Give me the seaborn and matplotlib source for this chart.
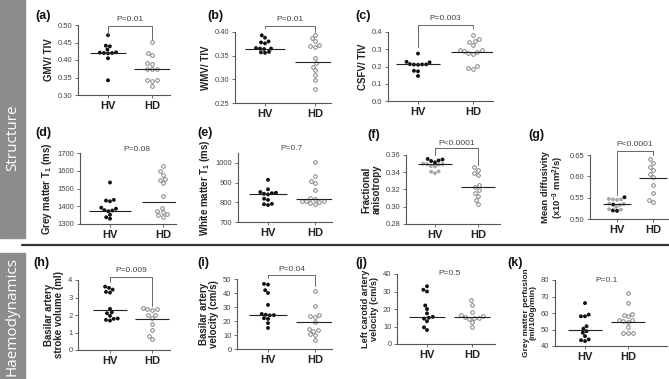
import numpy as np
import pandas as pd
import matplotlib
matplotlib.use("Agg")
import matplotlib.pyplot as plt
import matplotlib.transforms as mtransforms
import seaborn as sns

sns.set_style("ticks")
plt.rcParams["font.family"] = ["Liberation Sans", "DejaVu Sans"]
plt.rcParams["mathtext.fontset"] = "custom"
plt.rcParams["mathtext.rm"] = "Liberation Sans"
plt.rcParams["mathtext.bf"] = "Liberation Sans:bold"
plt.rcParams["mathtext.it"] = "Liberation Sans:italic"

groups = ["HV", "HD"]

# ---------------- data ----------------
gmv_hv = [0.471, 0.441, 0.439, 0.430, 0.422, 0.421, 0.420, 0.420, 0.419, 0.405, 0.342]
gmv_hd = [0.452, 0.421, 0.414, 0.391, 0.389, 0.375, 0.374, 0.373, 0.343, 0.342, 0.341, 0.327]
gmv_med = [0.420, 0.373]

wmv_hv = [0.393, 0.388, 0.380, 0.378, 0.376, 0.366, 0.365, 0.365, 0.364, 0.358, 0.357, 0.356]
wmv_hd = [0.394, 0.387, 0.380, 0.372, 0.370, 0.368, 0.345, 0.334, 0.327, 0.319, 0.309, 0.299, 0.280]
wmv_med = [0.365, 0.337]

csf_hv = [0.275, 0.227, 0.224, 0.214, 0.212, 0.212, 0.211, 0.210, 0.175, 0.172, 0.145]
csf_hd = [0.381, 0.358, 0.345, 0.340, 0.323, 0.295, 0.293, 0.290, 0.282, 0.276, 0.272, 0.202, 0.190, 0.185]
csf_med = [0.212, 0.283]

gmt1_hv = [1534, 1436, 1432, 1428, 1392, 1386, 1378, 1376, 1372, 1352, 1338, 1330]
gmt1_hd = [1625, 1598, 1578, 1552, 1550, 1530, 1458, 1392, 1372, 1368, 1354, 1348, 1342]
gmt1_med = [1376, 1425]

wmt1_hv = [914, 866, 852, 848, 846, 843, 840, 818, 812, 792, 790, 786]
wmt1_hd = [1003, 935, 908, 900, 860, 820, 815, 808, 806, 804, 802, 795, 792]
wmt1_med = [840, 817]

fa_hv_black = [0.3554, 0.3548, 0.3536, 0.3530, 0.3515]
fa_hv_grey = [0.3500, 0.3495, 0.3492, 0.3488, 0.3472, 0.3468, 0.3410, 0.3405, 0.3390]
fa_hd = [0.3457, 0.3426, 0.3395, 0.3372, 0.3253, 0.3225, 0.3195, 0.3165, 0.3125, 0.3078, 0.3032]
fa_med = [0.3496, 0.3225]

md_hv_black = [0.551, 0.534, 0.520, 0.519]
md_hv_grey = [0.547, 0.546, 0.546, 0.545, 0.536, 0.535, 0.533, 0.528, 0.523, 0.522]
md_hd = [0.640, 0.632, 0.623, 0.615, 0.606, 0.598, 0.580, 0.561, 0.545, 0.541]
md_med = [0.535, 0.595]

sv_hv = [3.62, 3.55, 3.45, 3.32, 3.28, 2.35, 2.15, 2.10, 1.95, 1.80, 1.78, 1.72, 1.68]
sv_hd = [2.40, 2.36, 2.33, 2.30, 2.00, 1.98, 1.82, 1.50, 1.12, 0.80, 0.62]
sv_med = [2.29, 1.80]

bv_hv = [46.5, 46.0, 42.0, 40.0, 31.5, 25.0, 24.5, 24.2, 24.0, 22.0, 21.5, 18.5, 15.0]
bv_hd = [41.5, 31.0, 24.5, 23.5, 23.0, 19.0, 14.0, 13.5, 13.0, 10.5, 10.0, 6.5]
bv_med = [24.4, 19.0]

lc_hv = [33, 31, 30, 22, 20, 17.5, 15.5, 15, 14.5, 13, 9.5, 8]
lc_hd = [25, 22.5, 18.5, 16.5, 16.2, 15.5, 15, 14.8, 14.5, 12.5, 9.5]
lc_med = [15.5, 15.5]

gp_hv = [66, 59, 58, 58, 52, 50.5, 49, 48, 46, 44, 43.5, 43]
gp_hd = [72, 66, 59.5, 59, 58, 56, 55.5, 55, 54.5, 51.5, 48, 48, 48]
gp_med = [50, 54.6]

p_texts = ["P=0.01", "P=0.01", "P=0.003", "P=0.08", "P=0.7", "P<0.0001",
           "P<0.0001", "P=0.009", "P=0.04", "P=0.5", "P=0.1"]
letters = ["(a)", "(b)", "(c)", "(d)", "(e)", "(f)", "(g)", "(h)", "(i)", "(j)", "(k)"]

# ---------------- layout ----------------
W, H = 669, 379
fig = plt.figure(figsize=(W / 100, H / 100), dpi=100)
fig.patch.set_facecolor("white")

def fx(x):
    return x / W

def fy(y):
    return 1 - y / H

# side bands
band = "#8c8c8c"
fig.add_artist(plt.Rectangle((0, fy(238)), fx(25), fy(0) - fy(238), transform=fig.transFigure,
                             color=band, zorder=0))
fig.add_artist(plt.Rectangle((0, 0), fx(25), fy(253), transform=fig.transFigure,
                             color=band, zorder=0))
fig.text(fx(12.5), fy(138), "Structure", rotation=90, ha="center", va="center",
         color="white", fontsize=11, family=["Open Sans", "DejaVu Sans"])
fig.text(fx(12.5), fy(316), "Haemodynamics", rotation=90, ha="center", va="center",
         color="white", fontsize=11, family=["Open Sans", "DejaVu Sans"])
fig.add_artist(plt.Line2D([fx(22), 1], [fy(245), fy(245)], transform=fig.transFigure,
                          color="#333333", lw=1.6))

panels = [
    dict(rect=(78, 170, 25, 95), hv=108, hd=152, hvd=gmv_hv, hdd=gmv_hd, med=gmv_med,
         ylim=(0.30, 0.50), yt=[0.30, 0.35, 0.40, 0.45, 0.50], fmt="%.2f", yl="GMV/ TIV",
         br=(0.98, 0.87, 0.80), pt=1.08, lab=(35, 16), yls=7),
    dict(rect=(235, 331, 32, 103), hv=265, hd=315, hvd=wmv_hv, hdd=wmv_hd, med=wmv_med,
         ylim=(0.25, 0.40), yt=[0.25, 0.30, 0.35, 0.40], fmt="%.2f", yl="WMV/ TIV",
         br=(1.09, 1.06, 0.995), pt=1.18, lab=(207, 16), yls=7),
    dict(rect=(388, 493, 32, 101), hv=418, hd=473, hvd=csf_hv, hdd=csf_hd, med=csf_med,
         ylim=(0.0, 0.4), yt=[0.0, 0.1, 0.2, 0.3, 0.4], fmt="%.1f", yl="CSFV/ TIV",
         br=(1.10, 0.78, 1.06), pt=1.19, lab=(355, 16), yls=7),
    dict(rect=(80, 176, 153, 224), hv=110, hd=163, hvd=gmt1_hv, hdd=gmt1_hd, med=gmt1_med,
         ylim=(1300, 1700), yt=[1300, 1400, 1500, 1600, 1700], fmt="%d",
         yl="Grey matter T$_\\mathbf{1}$ (ms)", br=None, pt=1.056, lab=(35, 133), yls=7),
    dict(rect=(238, 332, 153, 222), hv=268, hd=315, hvd=wmt1_hv, hdd=wmt1_hd, med=wmt1_med,
         ylim=(700, 1050), yt=[700, 800, 900, 1000], fmt="%d",
         yl="White matter T$_\\mathbf{1}$ (ms)", br=None, pt=1.07, lab=(197, 133), yls=7),
    dict(rect=(406, 500, 155, 224), hv=435, hd=478, hvd=fa_hv_black, hvg=fa_hv_grey, hdd=fa_hd,
         med=fa_med, ylim=(0.28, 0.36), yt=[0.28, 0.30, 0.32, 0.34, 0.36], fmt="%.2f",
         yl="Fractional\nanisotropy", br=(1.097, 1.0, 0.855), pt=1.16, lab=(367, 135), yls=7),
    dict(rect=(590, 668, 155, 219), hv=617, hd=653, hvd=md_hv_black, hvg=md_hv_grey, hdd=md_hd,
         med=md_med, ylim=(0.50, 0.65), yt=[0.50, 0.55, 0.60, 0.65], fmt="%.2f",
         yl="Mean diffusivity\n(x10$^{\\mathbf{-3}}$ mm$^{\\mathbf{2}}$/s)",
         br=(1.06, 0.375, 1.0), pt=1.17, lab=(528, 135), yls=6.8),
    dict(rect=(78, 170, 280, 350), hv=110, hd=152, hvd=sv_hv, hdd=sv_hd, med=sv_med,
         ylim=(0, 4), yt=[0, 1, 2, 3, 4], fmt="%d", yl="Basilar artery\nstroke volume (ml)",
         br=(1.047, 0.976, 0.63), pt=1.14, lab=(33, 263), yls=7),
    dict(rect=(237, 332, 279, 349), hv=268, hd=315, hvd=bv_hv, hdd=bv_hd, med=bv_med,
         ylim=(0, 50), yt=[0, 10, 20, 30, 40, 50], fmt="%d", yl="Basilar artery\nvelocity (cm/s)",
         br=(1.057, 1.01, 0.9), pt=1.14, lab=(197, 263), yls=7),
    dict(rect=(397, 495, 274, 344), hv=427, hd=472, hvd=lc_hv, hdd=lc_hd, med=lc_med,
         ylim=(0, 40), yt=[0, 10, 20, 30, 40], fmt="%d",
         yl="Left carotid artery\nvelocity (cm/s)", br=None, pt=1.01, lab=(355, 263), yls=6.6),
    dict(rect=(555, 667, 280, 346), hv=585, hd=628, hvd=gp_hv, hdd=gp_hd, med=gp_med,
         ylim=(40, 80), yt=[40, 50, 60, 70, 80], fmt="%d",
         yl="Grey matter perfusion\n(ml/100g/min)", br=None, pt=1.0, lab=(507, 263), yls=6.0),
]

axc = "#555555"
for i, p in enumerate(panels):
    x0, x1, yt_, yb_ = p["rect"]
    ax = fig.add_axes([fx(x0), fy(yb_), (x1 - x0) / W, (yb_ - yt_) / H])
    ax.set_facecolor("none")
    hv_vals = list(p["hvd"])
    kinds = ["black"] * len(hv_vals)
    if "hvg" in p:
        hv_vals += list(p["hvg"])
        kinds += ["grey"] * len(p["hvg"])
    df_hv = pd.DataFrame({"group": "HV", "value": hv_vals, "kind": kinds})
    df_hd = pd.DataFrame({"group": "HD", "value": p["hdd"]})
    sns.swarmplot(data=df_hv, x="group", y="value", hue="kind", order=groups,
                  palette={"black": "#111111", "grey": "#a8a8a8"}, size=2.8,
                  linewidth=0, ax=ax, legend=False, zorder=2)
    sns.swarmplot(data=df_hd, x="group", y="value", order=groups, color="white",
                  edgecolor="#6f6f6f", linewidth=0.6, size=2.6, ax=ax, zorder=2)
    for j, m in enumerate(p["med"]):
        ax.hlines(m, j - 0.4, j + 0.4, color="#222222", lw=0.8, zorder=3)
    s = p["hd"] - p["hv"]
    ax.set_xlim(-(p["hv"] - x0) / s, 1 + (x1 - p["hd"]) / s)
    ax.set_ylim(*p["ylim"])
    ax.set_yticks(p["yt"])
    ax.set_yticklabels([p["fmt"] % v for v in p["yt"]])
    ax.set_xticks([0, 1])
    ax.set_xticklabels(groups, fontsize=8, fontweight="bold", color="#222222")
    ax.set_xlabel("")
    ax.set_ylabel(p["yl"], fontsize=p["yls"], fontweight="bold", color="#222222", labelpad=3,
                  linespacing=1.0)
    for sp in ["top", "right"]:
        ax.spines[sp].set_visible(False)
    for sp in ["left", "bottom"]:
        ax.spines[sp].set_color(axc)
        ax.spines[sp].set_linewidth(0.8)
    ax.tick_params(axis="y", labelsize=5.5, labelcolor="#444444", color=axc, length=2.5,
                   width=0.6, pad=1.5)
    ax.tick_params(axis="x", color=axc, length=2.5, width=0.6, pad=2)
    trans = mtransforms.blended_transform_factory(ax.transData, ax.transAxes)
    if p["br"] is not None:
        yb, yl, yr = p["br"]
        ax.plot([0, 0, 1, 1], [yl, yb, yb, yr], transform=trans, color="#666666",
                lw=0.7, clip_on=False)
    ax.text(0.5, p["pt"], p_texts[i], transform=trans, ha="center", va="center",
            fontsize=6, color="#444444", clip_on=False)
    fig.text(fx(p["lab"][0]), fy(p["lab"][1]), letters[i], ha="left", va="center",
             fontsize=9, fontweight="bold", color="#111111")

fig.savefig("out.png", dpi=100)
